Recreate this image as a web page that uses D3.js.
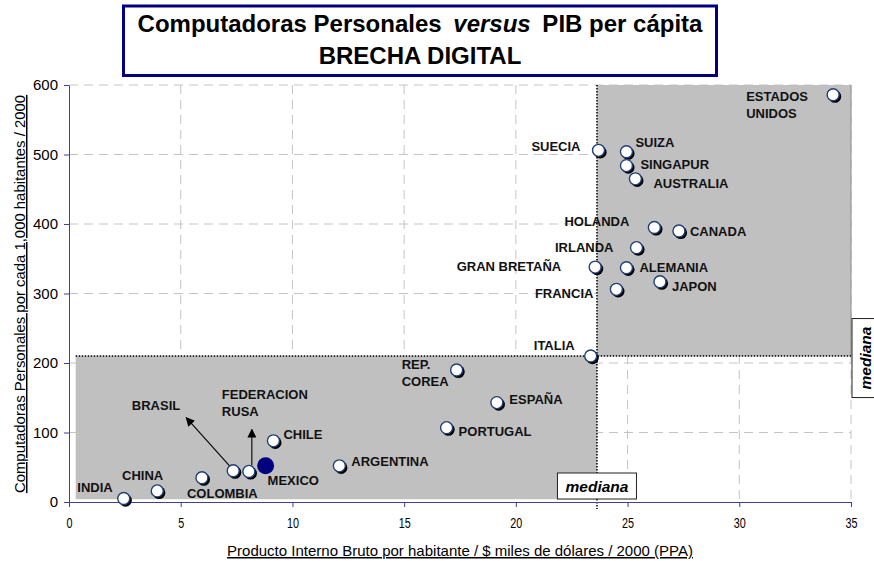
<!DOCTYPE html>
<html>
<head>
<meta charset="utf-8">
<script src="https://cdn.jsdelivr.net/npm/d3@7"></script>
<style>
  html, body { margin: 0; padding: 0; background: #fff; }
  svg { display: block; font-family: Arial, "Liberation Sans", sans-serif; }
</style>
</head>
<body>
<svg id="chart" width="874" height="561"></svg>
<script>
// ---------- DATA ----------
const countries = ["INDIA","CHINA","COLOMBIA","BRASIL","FEDERACION RUSA","MEXICO","CHILE","ARGENTINA",
  "PORTUGAL","REP. COREA","ESPAÑA","ITALIA","GRAN BRETAÑA","SUECIA","FRANCIA","SUIZA","SINGAPUR",
  "ALEMANIA","AUSTRALIA","IRLANDA","HOLANDA","JAPON","CANADA","ESTADOS UNIDOS"];
const gdpPerCapita = [2.45, 3.95, 5.95, 7.35, 8.05, 8.8, 9.15, 12.1,
  16.9, 17.35, 19.15, 23.35, 23.55, 23.7, 24.5, 24.95, 24.95,
  24.95, 25.35, 25.4, 26.2, 26.45, 27.3, 34.2];
const pcsPer1000 = [5, 16, 35, 45, 44, 52, 88, 52,
  107, 190, 143, 210, 338, 506, 306, 504, 484,
  337, 465, 366, 395, 317, 390, 586];
const highlighted = ["MEXICO"];
const medianGdp = 23.63;
const medianPcs = 210;
const xTicks = [0, 5, 10, 15, 20, 25, 30, 35];
const yTicks = [0, 100, 200, 300, 400, 500, 600];
const titleLine1 = ["Computadoras Personales ", "versus", " PIB per cápita"];
const titleLine2 = "BRECHA DIGITAL";
const xTitle = "Producto Interno Bruto por habitante / $ miles de dólares / 2000 (PPA)";
const yTitle = "Computadoras Personales por cada 1,000 habitantes / 2000";
const medianText = "mediana";

// ---------- LAYOUT (label placement, pixel offsets from each point) ----------
const labelLayout = {
  "INDIA": {a:"end", dx:-11, dy:-7},
  "CHINA": {a:"end", dx:6, dy:-11},
  "COLOMBIA": {a:"start", dx:-15, dy:20},
  "BRASIL": {a:"end", dx:-53, dy:-61, arrow:[-3,-4,-47,-53]},
  "FEDERACION RUSA": {a:"start", dx:-27, dy:-72, lines:["FEDERACION","RUSA"], arrow:[3,-6,3,-42]},
  "MEXICO": {a:"start", dx:2, dy:19},
  "CHILE": {a:"start", dx:10, dy:-2},
  "ARGENTINA": {a:"start", dx:12, dy:0},
  "PORTUGAL": {a:"start", dx:12, dy:8},
  "REP. COREA": {a:"start", dx:-55, dy:-1, lines:["REP.","COREA"]},
  "ESPAÑA": {a:"start", dx:12.5, dy:1},
  "ITALIA": {a:"end", dx:-16, dy:-6},
  "GRAN BRETAÑA": {a:"end", dx:-34, dy:4},
  "SUECIA": {a:"end", dx:-18, dy:1},
  "FRANCIA": {a:"end", dx:-23, dy:9},
  "SUIZA": {a:"start", dx:9, dy:-5},
  "SINGAPUR": {a:"start", dx:14, dy:3},
  "ALEMANIA": {a:"start", dx:13, dy:4},
  "AUSTRALIA": {a:"start", dx:18, dy:9},
  "IRLANDA": {a:"end", dx:-23, dy:4},
  "HOLANDA": {a:"end", dx:-25, dy:-1},
  "JAPON": {a:"start", dx:12, dy:9},
  "CANADA": {a:"start", dx:11, dy:5},
  "ESTADOS UNIDOS": {a:"start", dx:-87, dy:6, lines:["ESTADOS","UNIDOS"]}
};

const svg = d3.select("#chart");
const plot = {left: 69, right: 851, top: 85, bottom: 502};

const x = d3.scaleLinear().domain([0, 35]).range([plot.left, plot.right]);
const y = d3.scaleLinear().domain([0, 600]).range([plot.bottom, plot.top]);

const defs = svg.append("defs");
defs.append("marker").attr("id", "arrowHead")
  .attr("viewBox", "0 0 10 10").attr("refX", 9).attr("refY", 5)
  .attr("markerWidth", 9).attr("markerHeight", 9).attr("markerUnits", "userSpaceOnUse")
  .attr("orient", "auto")
  .append("path").attr("d", "M0,0 L10,5 L0,10 Z").attr("fill", "#000");

// ---------- GRIDLINES ----------
const grid = svg.append("g");
grid.selectAll("line.hg").data(yTicks.filter(d => d > 0)).enter().append("line")
  .attr("x1", plot.left).attr("x2", plot.right)
  .attr("y1", d => y(d)).attr("y2", d => y(d))
  .attr("stroke", "#c4c4c4").attr("stroke-dasharray", "9,6");
grid.selectAll("line.vg").data(xTicks.filter(d => d > 0)).enter().append("line")
  .attr("y1", plot.top).attr("y2", plot.bottom)
  .attr("x1", d => x(d)).attr("x2", d => x(d))
  .attr("stroke", "#c4c4c4").attr("stroke-dasharray", "9,6");

// ---------- QUADRANT SHADING ----------
const quadrants = [
  {x0: 0.3, x1: medianGdp, y0: 4, y1: medianPcs},
  {x0: medianGdp, x1: 35, y0: medianPcs, y1: 600}
];
svg.selectAll("rect.quad").data(quadrants).enter().append("rect")
  .attr("x", d => x(d.x0)).attr("width", d => x(d.x1) - x(d.x0))
  .attr("y", d => y(d.y1)).attr("height", d => y(d.y0) - y(d.y1))
  .attr("fill", "#c0c0c0");
svg.append("line")
  .attr("x1", x(35)).attr("x2", x(35)).attr("y1", y(600)).attr("y2", y(medianPcs))
  .attr("stroke", "#8c8c8c").attr("stroke-width", 1);

// median dotted lines
svg.append("line")
  .attr("x1", x(medianGdp)).attr("x2", x(medianGdp))
  .attr("y1", plot.top).attr("y2", plot.bottom + 7)
  .attr("stroke", "#000").attr("stroke-width", 1.5).attr("stroke-dasharray", "1.5,1.5");
svg.append("line")
  .attr("x1", x(0.3)).attr("x2", x(35))
  .attr("y1", y(medianPcs)).attr("y2", y(medianPcs))
  .attr("stroke", "#000").attr("stroke-width", 1.5).attr("stroke-dasharray", "1.5,1.5");

// ---------- AXES ----------
const axisColor = "#3f3f9f";
const yAxis = svg.append("g").attr("transform", `translate(${plot.left},0)`)
  .call(d3.axisLeft(y).tickValues(yTicks).tickSize(5).tickSizeOuter(0).tickPadding(6));
yAxis.select(".domain").attr("stroke", axisColor);
yAxis.selectAll(".tick line").attr("stroke", axisColor);
yAxis.selectAll(".tick text").attr("font-size", 15).attr("fill", "#000")
  .attr("font-family", "Arial, 'Liberation Sans', sans-serif");

const xAxis = svg.append("g").attr("transform", `translate(0,${plot.bottom})`)
  .call(d3.axisBottom(x).tickValues(xTicks).tickSize(5).tickSizeOuter(0).tickPadding(0));
xAxis.select(".domain").attr("stroke", axisColor);
xAxis.selectAll(".tick line").attr("stroke", axisColor);
xAxis.selectAll(".tick text").attr("font-size", 15).attr("fill", "#000")
  .attr("font-family", "Arial, 'Liberation Sans', sans-serif")
  .attr("dy", null).attr("y", 0)
  .attr("transform", "translate(0,26) scale(0.72,1)");

// ---------- ANNOTATION ARROWS ----------
const points = countries.map((c, i) => ({name: c, gx: gdpPerCapita[i], py: pcsPer1000[i]}));
const arrowsG = svg.append("g");
points.forEach(p => {
  const L = labelLayout[p.name];
  if (L && L.arrow) {
    const px = x(p.gx), py = y(p.py);
    arrowsG.append("line")
      .attr("x1", px + L.arrow[0]).attr("y1", py + L.arrow[1])
      .attr("x2", px + L.arrow[2]).attr("y2", py + L.arrow[3])
      .attr("stroke", "#000").attr("stroke-width", 1.1)
      .attr("marker-end", "url(#arrowHead)");
  }
});

// ---------- POINTS ----------
const normal = points.filter(p => !highlighted.includes(p.name));
const special = points.filter(p => highlighted.includes(p.name));
const ptsG = svg.append("g");
ptsG.selectAll("circle.shadow").data(normal).enter().append("circle")
  .attr("cx", d => x(d.gx) + 1.8).attr("cy", d => y(d.py) + 1.8).attr("r", 6.3)
  .attr("fill", "#000");
ptsG.selectAll("circle.pt").data(normal).enter().append("circle")
  .attr("cx", d => x(d.gx)).attr("cy", d => y(d.py)).attr("r", 6)
  .attr("fill", "#fff").attr("stroke", "#1f3f7a").attr("stroke-width", 1.4);
ptsG.selectAll("circle.hl").data(special).enter().append("circle")
  .attr("cx", d => x(d.gx)).attr("cy", d => y(d.py)).attr("r", 8.5)
  .attr("fill", "#000080");

// ---------- LABELS ----------
const labG = svg.append("g").attr("font-size", 13).attr("font-weight", "bold").attr("fill", "#111");
points.forEach(p => {
  const L = labelLayout[p.name];
  const lines = L.lines || [p.name];
  const t = labG.append("text")
    .attr("x", x(p.gx) + L.dx).attr("y", y(p.py) + L.dy)
    .attr("text-anchor", L.a);
  lines.forEach((ln, k) => {
    t.append("tspan").attr("x", x(p.gx) + L.dx).attr("dy", k === 0 ? 0 : 17).text(ln);
  });
});

// ---------- MEDIAN BOXES ----------
const mb1 = svg.append("g").attr("transform", `translate(${x(medianGdp)},${486})`);
mb1.append("rect").attr("x", -39.5).attr("y", -13).attr("width", 79).attr("height", 26)
  .attr("fill", "#fff").attr("stroke", "#222").attr("stroke-width", 1);
mb1.append("text").attr("text-anchor", "middle").attr("y", 6)
  .attr("font-size", 15.5).attr("font-weight", "bold").attr("font-style", "italic")
  .text(medianText);

const mb2 = svg.append("g").attr("transform", `translate(${865},${y(medianPcs) + 2})`);
mb2.append("rect").attr("x", -13).attr("y", -39.5).attr("width", 26).attr("height", 79)
  .attr("fill", "#fff").attr("stroke", "#222").attr("stroke-width", 1);
mb2.append("text").attr("text-anchor", "middle").attr("transform", "rotate(-90)").attr("y", 5.5)
  .attr("font-size", 15.5).attr("font-weight", "bold").attr("font-style", "italic")
  .text(medianText);

// ---------- AXIS TITLES ----------
svg.append("text").attr("x", 460).attr("y", 556).attr("text-anchor", "middle")
  .attr("font-size", 15).attr("text-decoration", "underline").attr("fill", "#000")
  .text(xTitle);
svg.append("text").attr("transform", "translate(25,294) rotate(-90)").attr("text-anchor", "middle")
  .attr("font-size", 14.9).attr("text-decoration", "underline").attr("fill", "#000")
  .text(yTitle);

// ---------- TITLE BOX ----------
svg.append("rect").attr("x", 123.5).attr("y", 6).attr("width", 593).attr("height", 69.5)
  .attr("fill", "#fff").attr("stroke", "#000080").attr("stroke-width", 3);
const t1 = svg.append("text").attr("x", 420).attr("y", 32).attr("text-anchor", "middle")
  .attr("font-size", 24).attr("font-weight", "bold").attr("fill", "#000").attr("xml:space", "preserve");
t1.append("tspan").text(titleLine1[0]);
t1.append("tspan").attr("font-style", "italic").attr("dx", 5).text(titleLine1[1]);
t1.append("tspan").attr("dx", 5).text(titleLine1[2]);
svg.append("text").attr("x", 420).attr("y", 64).attr("text-anchor", "middle")
  .attr("font-size", 24).attr("font-weight", "bold").attr("fill", "#000")
  .text(titleLine2);
</script>
</body>
</html>
